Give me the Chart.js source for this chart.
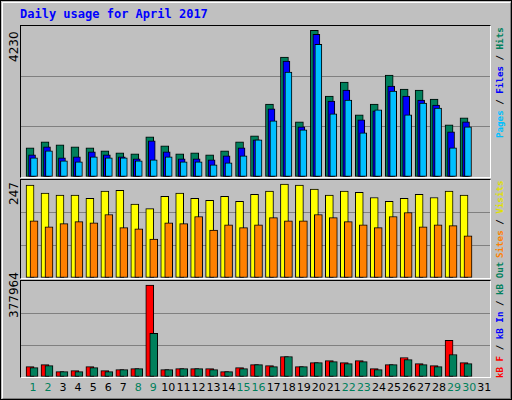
<!DOCTYPE html>
<html><head><meta charset="utf-8">
<script src="https://cdn.jsdelivr.net/npm/chart.js@4"></script>
<style>
body{margin:0;width:512px;height:400px;overflow:hidden;background:#fff}
#frame{position:absolute;left:0;top:0;width:510px;height:398px;border:1px solid #000;background:#c0c0c0}
#inner{position:absolute;left:1px;top:1px;width:507px;height:395px;border-left:1px solid #fff;border-top:1px solid #fff;border-right:1px solid #808080;border-bottom:1px solid #808080}
.panel{position:absolute;left:20px;width:469px;border-top:1px solid #000;border-left:1px solid #000;border-right:1px solid #fff;border-bottom:1px solid #fff}
.panel canvas{display:block}
.t{position:absolute;font-family:"DejaVu Sans Mono",monospace;white-space:nowrap}
.rot{transform-origin:0 0;transform:rotate(-90deg)}
#days span{position:absolute;top:381px;font-family:"DejaVu Sans",sans-serif;font-size:11px;width:16px;text-align:center}
</style></head><body>
<div id="frame"><div id="inner"></div></div>
<div class="t" style="left:20px;top:7px;font-size:12px;font-weight:bold;color:#0000ff">Daily usage for April 2017</div>
<div class="panel" style="top:25px;height:151px"><canvas id="c1" width="469" height="151"></canvas></div>
<div class="panel" style="top:179px;height:98px"><canvas id="c2" width="469" height="98"></canvas></div>
<div class="panel" style="top:280px;height:96px"><canvas id="c3" width="469" height="96"></canvas></div>
<div class="t rot" style="left:7px;top:62px;font-size:12px;font-family:'DejaVu Sans',sans-serif">4230</div>
<div class="t rot" style="left:7px;top:205px;font-size:12px;font-family:'DejaVu Sans',sans-serif">247</div>
<div class="t rot" style="left:7px;top:318px;font-size:12px;font-family:'DejaVu Sans',sans-serif">377964</div>
<div class="t rot" style="left:494px;top:138px;font-size:9.2px;font-weight:bold"><span style="color:#00c0ff">Pages</span><span style="color:#000"> / </span><span style="color:#0000ff">Files</span><span style="color:#000"> / </span><span style="color:#00805c">Hits</span></div>
<div class="t rot" style="left:494px;top:258px;font-size:9.2px;font-weight:bold"><span style="color:#ff8000">Sites</span><span style="color:#000"> / </span><span style="color:#e0e000">Visits</span></div>
<div class="t rot" style="left:494px;top:378px;font-size:9.2px;font-weight:bold"><span style="color:#ff0000">kB F</span><span style="color:#000"> / </span><span style="color:#0000ff">kB In</span><span style="color:#000"> / </span><span style="color:#00805c">kB Out</span></div>
<div id="days"></div>
<script>
const days = Array.from({length:31},(_,i)=>i+1);
const weekend = [1,2,8,9,15,16,22,23,29,30];
const hits  = [818,986,902,846,818,735,679,651,1125,874,651,679,623,735,986,1153,2046,3357,1544,4111,2269,2660,1739,2046,2855,2464,2437,2185,1460,1655];
const files = [623,846,539,567,707,623,567,512,1014,707,512,512,484,595,818,1042,1907,3246,1404,3999,2130,2437,1600,1851,2548,2269,2158,2018,1265,1544];
const pages = [539,735,456,428,567,539,539,456,484,567,428,428,344,400,595,1042,1572,2939,1321,3720,1767,2158,1237,1879,2409,1739,2074,1934,818,1404];
const visits= [234,214,209,209,201,219,221,186,175,206,214,201,196,206,193,211,219,237,234,224,209,219,216,203,193,201,211,203,219,209];
const sites = [144,129,137,142,139,160,127,124,98,139,137,155,121,134,127,134,152,144,144,160,152,142,134,127,155,165,129,134,132,106];
const kbF   = [40951,48877,21136,25099,40951,25099,29062,33025,361954,29062,33025,33025,33025,21136,36988,48877,44914,80581,40951,56803,64729,56803,64729,33025,48877,76618,52840,44914,143989,56803];
const kbOut = [36988,44914,21136,21136,36988,21136,29062,33025,171730,29062,33025,33025,29062,21136,33025,48877,40951,80581,40951,56803,60766,52840,60766,29062,48877,68692,48877,40951,88507,52840];
const maxTop=4230, maxMid=247, maxBot=377964;

const px = 1/15.04;
function ds(vals,off,color,order,w){
  return {data:vals.map((v,i)=>({x:i+1+off*px,y:v})),backgroundColor:color,borderColor:'#000',borderWidth:1,
    borderSkipped:false,barThickness:w,grouped:false,order:order};
}
function make(id,datasets,max){
  new Chart(document.getElementById(id),{type:'bar',data:{datasets},
    options:{responsive:false,animation:false,events:[],layout:{padding:0},
      plugins:{legend:{display:false},tooltip:{enabled:false}},
      scales:{x:{type:'linear',min:0.13,max:31.47,offset:false,display:false},
        y:{min:0,max:max,display:true,border:{display:false},
          ticks:{display:false,stepSize:max/3},
          grid:{drawTicks:false,color:c=>(c.index===1||c.index===2)?'#808080':'rgba(0,0,0,0)'}}}}});
}
make('c1',[ds(pages,0,'#00c0ff',1,7),ds(files,-2,'#0000ff',2,7),ds(hits,-4,'#00805c',3,8)],maxTop);
make('c2',[ds(sites,0,'#ff8000',1,8),ds(visits,-4,'#ffff00',2,8)],maxMid);
make('c3',[ds(kbOut,0,'#00805c',1,8),ds(kbF,-4,'#ff0000',2,8)],maxBot);

const dd=document.getElementById('days');
days.forEach(d=>{const s=document.createElement('span');s.textContent=d;
  s.style.left=(25+(d-1)*15.04)+'px';s.style.color=weekend.includes(d)?'#00805c':'#000';dd.appendChild(s);});
</script>
</body></html>
